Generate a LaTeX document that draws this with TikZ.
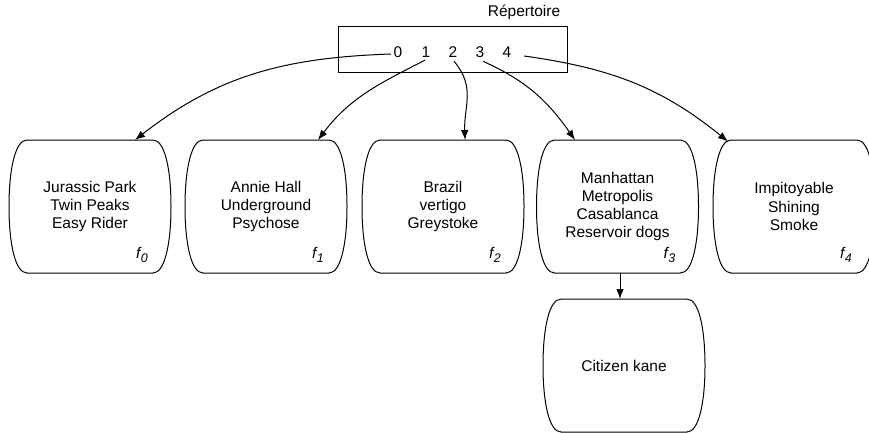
\documentclass[tikz,border=0pt]{standalone}
\usepackage{fontspec}
\setmainfont{Liberation Sans}
\usetikzlibrary{calc,arrows.meta}
\newcommand{\flabel}[1]{f\kern0.5pt\raisebox{-4pt}{\fontsize{12.5}{12.5}\selectfont #1}}
\begin{document}
\begin{tikzpicture}[x=1pt,y=1pt,line width=1pt,
  film/.style={rectangle,inner sep=0pt,outer sep=0pt,minimum width=162pt,minimum height=133pt,align=center,font=\fontsize{15.5}{18.3}\selectfont},
  flab/.style={font=\fontsize{15.5}{18}\selectfont\itshape,inner sep=0pt},
  dig/.style={font=\fontsize{15.5}{18}\selectfont},
  repbox/.style={draw,rectangle,minimum width=229pt,minimum height=46pt,inner sep=0pt},
  arr/.style={-{Latex[length=10pt,width=7.5pt]}},
  outl/.style={line width=1pt}]
\useasboundingbox (0,0) rectangle (869,-433);

% directory
\node[repbox] (rep) at (452.5,-50) {};
\node[dig] (replab) at (524,-12) {Répertoire};
\node[dig] (d0) at (398,-52) {0};
\node[dig] (d1) at (426,-52) {1};
\node[dig] (d2) at (453,-52) {2};
\node[dig] (d3) at (480,-52) {3};
\node[dig] (d4) at (507,-52) {4};

% file blocks
\node[film] (f0) at (90,-206.5) {Jurassic Park\\Twin Peaks\\Easy Rider};
\node[film] (f1) at (266,-206.5) {Annie Hall\\Underground\\Psychose};
\node[film] (f2) at (443,-206.5) {Brazil\\vertigo\\Greystoke};
\node[film] (f3) at (617.5,-206.5) {Manhattan\\Metropolis\\Casablanca\\Reservoir dogs};
\node[film] (f4) at (794,-206.5) {Impitoyable\\Shining\\Smoke};
\node[film] (cz) at (624,-365.5) {Citizen kane};

\foreach \n in {f0,f1,f2,f3,f4,cz} {
  \draw[outl] ($(\n.north west)+(18,0)$) -- ($(\n.north east)+(-18,0)$)
    .. controls ($(\n.north east)+(-6,0)$) and ($(\n.north east)+(0,-30)$) .. (\n.east)
    .. controls ($(\n.south east)+(0,30)$) and ($(\n.south east)+(-6,0)$) .. ($(\n.south east)+(-18,0)$)
    -- ($(\n.south west)+(18,0)$)
    .. controls ($(\n.south west)+(6,0)$) and ($(\n.south west)+(0,30)$) .. (\n.west)
    .. controls ($(\n.north west)+(0,-30)$) and ($(\n.north west)+(6,0)$) .. cycle;
}

\node[flab] (l0) at ($(f0.south east)+(-29,18)$) {\flabel{0}};
\node[flab] (l1) at ($(f1.south east)+(-29,18)$) {\flabel{1}};
\node[flab] (l2) at ($(f2.south east)+(-29,18)$) {\flabel{2}};
\node[flab] (l3) at ($(f3.south east)+(-29,18)$) {\flabel{3}};
\node[flab] (l4) at ($(f4.south east)+(-29,18)$) {\flabel{4}};

% pointers
\draw[arr] ($(d0.west)+(1,-2)$) to[out=182,in=38] ($(f0.north)+(45,0)$);
\draw[arr] ($(d1.south)+(-1,1)$) to[out=207,in=53] ($(f1.north)+(52,0)$);
\draw[arr] ($(d2.south)+(1,0)$) to[out=-50,in=92,looseness=1.1] ($(f2.north)+(22,0)$);
\draw[arr] ($(d3.south)+(3,0)$) to[out=-24,in=125] ($(f3.north)+(-42.5,0)$);
\draw[arr] ($(d4.east)+(9,-4)$) to[out=-8,in=141] ($(f4.north)+(-66,-1.5)$);
\draw[arr] ($(f3.south)+(2.5,0)$) -- ($(cz.north)+(-4,0)$);
\end{tikzpicture}
\end{document}
